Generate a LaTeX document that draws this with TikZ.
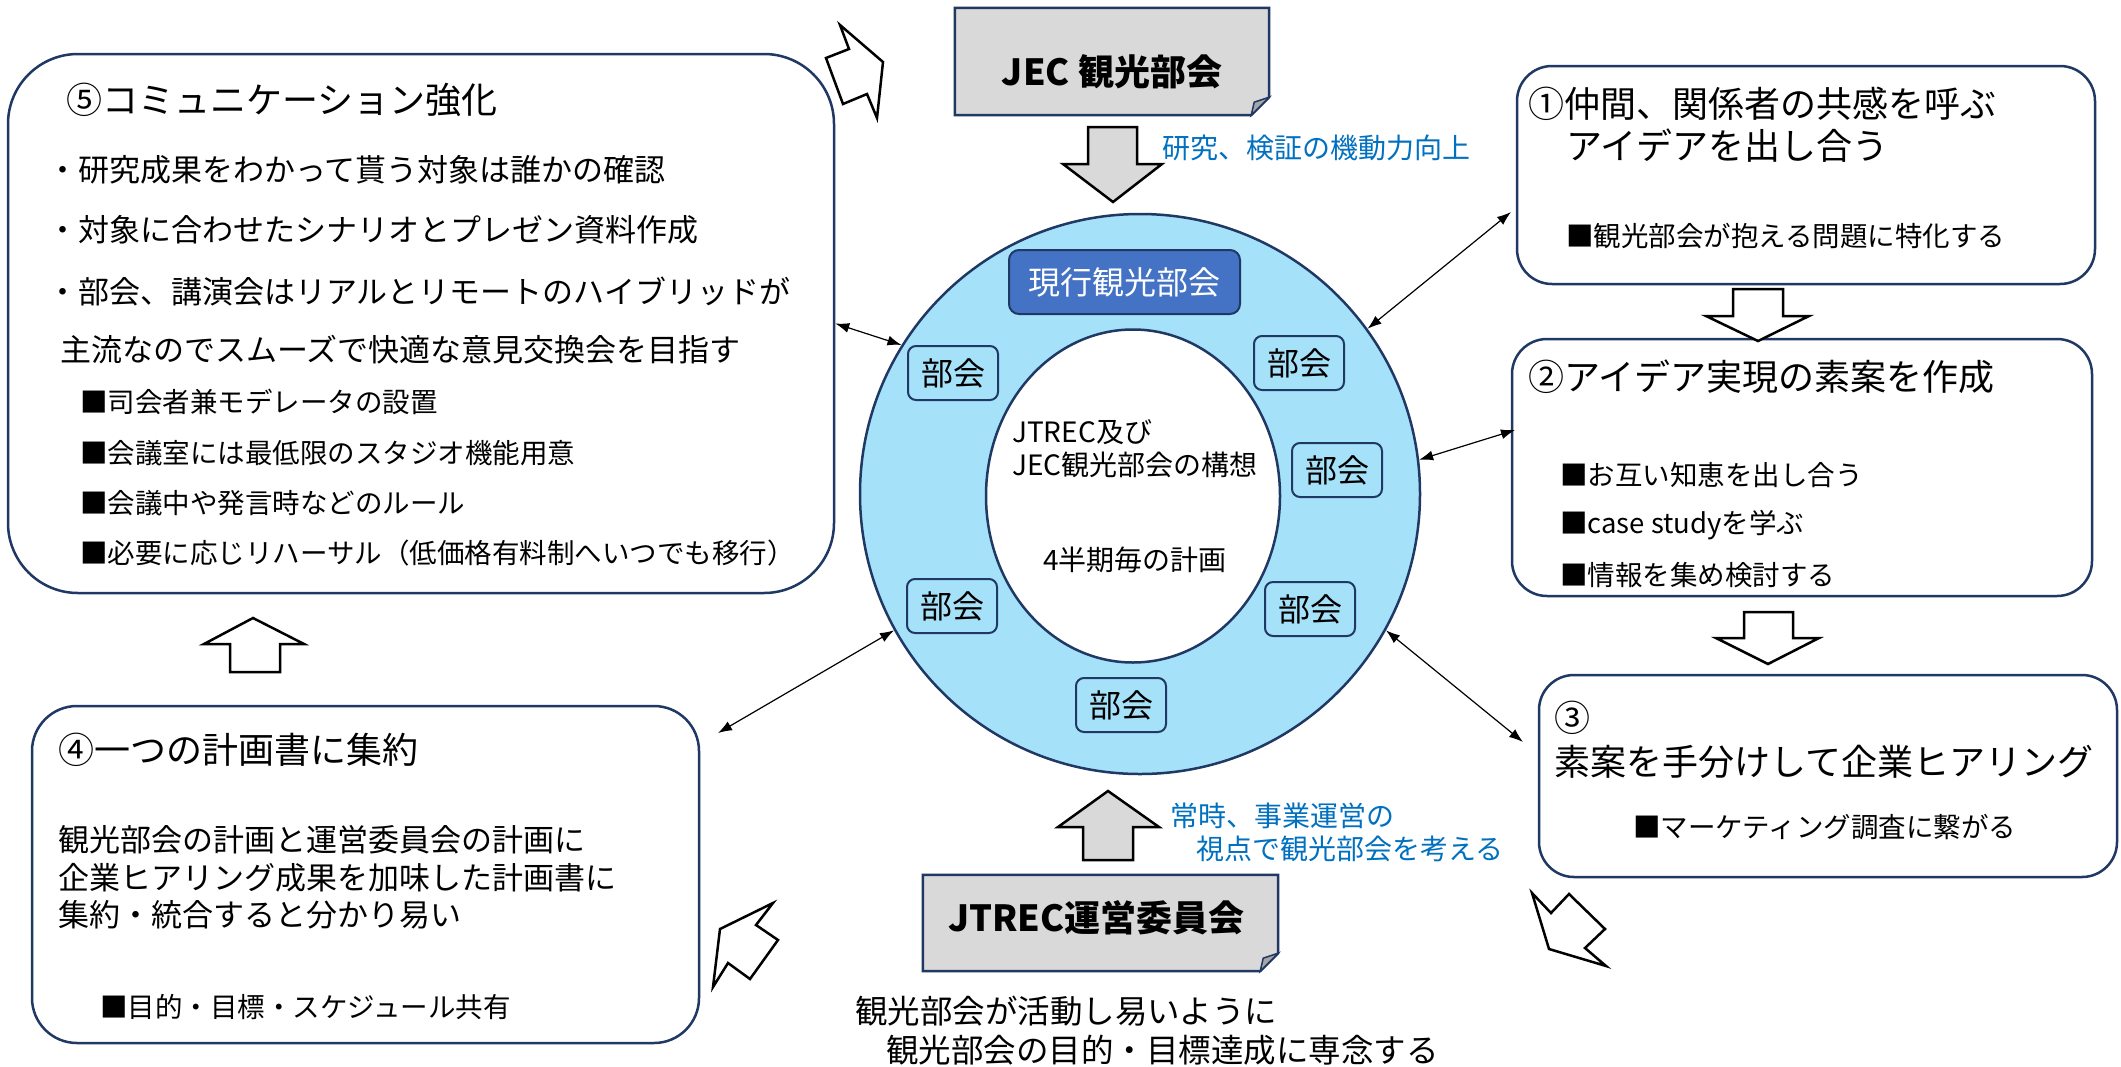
\documentclass[tikz,border=0pt]{standalone}
\usepackage{fontspec}
\setmainfont{Noto Sans CJK JP}
\usepackage{tikz}
\usetikzlibrary{shapes,calc,arrows.meta}

\definecolor{navy}{HTML}{203864}
\definecolor{ringblue}{HTML}{A6E1FA}
\definecolor{boxblue}{HTML}{4472C4}
\definecolor{noteblue}{HTML}{0070C0}
\definecolor{notegray}{HTML}{D9D9D9}
\definecolor{foldgray}{HTML}{A6A6A6}

\begin{document}
\begin{tikzpicture}[x=1pt,y=-1pt]
\tikzset{
	plan box/.style = {draw = navy, line width = 2.5pt, rounded corners = 35pt, inner sep = 0},
	part node/.style = {draw = navy, line width = 2pt, fill = ringblue, rounded corners = 8pt, minimum width = 90pt, minimum height = 54pt, inner sep = 0, font = \fontsize{32}{38}\selectfont},
	link/.style = {<->, line width = 1.2pt, >={Latex[length=14pt,width=10pt]}},
	hollow arrow/.style = {draw, line width = 2.5pt, line join = miter, fill = white},
	solid arrow/.style = {draw, line width = 2.5pt, line join = miter, fill = notegray},
	title text/.style = {anchor = west, inner sep = 0, font = \fontsize{36}{44}\selectfont},
	body text/.style = {anchor = west, inner sep = 0, font = \fontsize{31}{38}\selectfont},
	item text/.style = {anchor = west, inner sep = 0, font = \fontsize{27.5}{34}\selectfont},
	blue text/.style = {anchor = west, inner sep = 0, text = noteblue, font = \fontsize{28}{34}\selectfont},
}
\useasboundingbox[fill = white] (0,0) rectangle (2121,1066);

% ring
\node(ring)[circle, draw = navy, line width = 2.5pt, fill = ringblue, minimum size = 560pt, inner sep = 0] at (1140,494){};
\node(core)[ellipse, draw = navy, line width = 2.5pt, fill = white, minimum width = 294pt, minimum height = 333pt, inner sep = 0] at (1133,496){};
\node(current)[draw = navy, line width = 2pt, fill = boxblue, rounded corners = 10pt, minimum width = 231pt, minimum height = 64pt, text = white, font = \fontsize{32}{38}\selectfont] at (1124.5,282){現行観光部会};
\node(p1)[part node] at (953,373){部会};
\node(p2)[part node] at (1299,363){部会};
\node(p3)[part node] at (1337,470){部会};
\node(p4)[part node] at (952,606){部会};
\node(p5)[part node] at (1310,609){部会};
\node(p6)[part node] at (1121,705){部会};
\node(idea1)[anchor = west, inner sep = 0, font = \fontsize{28}{34}\selectfont] at (1012,432){JTREC及び};
\node(idea2)[anchor = west, inner sep = 0, font = \fontsize{28}{34}\selectfont] at (1012,465){JEC観光部会の構想};
\node(quarter)[inner sep = 0, font = \fontsize{28}{34}\selectfont] at (1135,560){4半期毎の計画};

% plan boxes
\node(b5)[plan box, rounded corners = 70pt, minimum width = 826pt, minimum height = 539pt] at (421,323.5){};
\node(b1)[plan box, minimum width = 578pt, minimum height = 218pt] at (1806,175){};
\node(b2)[plan box, minimum width = 580pt, minimum height = 257pt] at (1802,467.5){};
\node(b3)[plan box, minimum width = 578pt, minimum height = 202pt] at (1828,776){};
\node(b4)[plan box, rounded corners = 45pt, minimum width = 667pt, minimum height = 337pt] at (365.5,874.5){};

% note boxes
\node(jec)[minimum width = 314pt, minimum height = 107pt, inner sep = 0] at (1112,61.5){};
\draw [draw = navy, line width = 2.5pt, fill = notegray, line join = miter] (jec.north west) -- (jec.north east) -- ([yshift=18pt]jec.south east) -- ([xshift=-18pt]jec.south east) -- (jec.south west) -- cycle;
\draw [draw = navy, line width = 1.5pt, fill = foldgray, line join = miter] ([xshift=-18pt]jec.south east) -- ([xshift=-15pt,yshift=13pt]jec.south east) -- ([yshift=18pt]jec.south east) -- cycle;
\node(jectext)[font = \fontsize{36}{44}\selectfont\bfseries] at ([yshift=-10pt]jec.center){JEC 観光部会};

\node(jtrec)[minimum width = 355pt, minimum height = 96pt, inner sep = 0] at (1100.5,923){};
\draw [draw = navy, line width = 2.5pt, fill = notegray, line join = miter] (jtrec.north west) -- (jtrec.north east) -- ([yshift=18pt]jtrec.south east) -- ([xshift=-18pt]jtrec.south east) -- (jtrec.south west) -- cycle;
\draw [draw = navy, line width = 1.5pt, fill = foldgray, line join = miter] ([xshift=-18pt]jtrec.south east) -- ([xshift=-15pt,yshift=13pt]jtrec.south east) -- ([yshift=18pt]jtrec.south east) -- cycle;
\node(jtrectext)[font = \fontsize{36}{44}\selectfont\bfseries] at ([xshift=-4pt,yshift=5pt]jtrec.center){JTREC運営委員会};

% block arrows
\draw [solid arrow] (1088,127) -- (1137,127) -- (1137,164) -- (1162,164) -- (1113,202) -- (1063,164) -- (1088,164) -- cycle;
\draw [solid arrow] (1083,860) -- (1133,860) -- (1133,827) -- (1159,827) -- (1108,791) -- (1058,827) -- (1083,827) -- cycle;
\draw [hollow arrow] (1733,289) -- (1783,289) -- (1783,316) -- (1809,316) -- (1758,341) -- (1706,316) -- (1733,316) -- cycle;
\draw [hollow arrow] (1744,612) -- (1793,612) -- (1793,638) -- (1819,638) -- (1768,664) -- (1716,638) -- (1744,638) -- cycle;
\draw [hollow arrow] (230,672) -- (280,672) -- (280,644) -- (304,644) -- (253,618) -- (204,644) -- (230,644) -- cycle;
\draw [hollow arrow] (840,25) -- (849,49) -- (826,58) -- (843,104) -- (867,94) -- (877,118) -- (883,62) -- cycle;
\draw [hollow arrow] (1532,893) -- (1551,913) -- (1569,894) -- (1605,929) -- (1585,948) -- (1606,966) -- (1549,949) -- cycle;
\draw [hollow arrow] (773,903) -- (756,925) -- (778,940) -- (750,979) -- (728,963) -- (713,987) -- (720,929) -- cycle;

% links
\coordinate(e1) at (1511,212);
\coordinate(e2) at (1515,430);
\coordinate(e3) at (1523,742);
\coordinate(e4) at (718,733);
\draw [link] (b5.east) -- (ring.148);
\draw [link] (ring.36) -- (e1);
\draw [link] (ring.7.5) -- (e2);
\draw [link] (ring.-29) -- (e3);
\draw [link] (ring.209) -- (e4);

% texts
\node(b5title)[title text] at (66,100){⑤コミュニケーション強化};
\node(b5a)[body text] at (47,170){・研究成果をわかって貰う対象は誰かの確認};
\node(b5b)[body text] at (47,230){・対象に合わせたシナリオとプレゼン資料作成};
\node(b5c)[body text] at (47,291){・部会、講演会はリアルとリモートのハイブリッドが};
\node(b5d)[body text] at (60,350){主流なのでスムーズで快適な意見交換会を目指す};
\node(b5e)[item text] at (80,402){■司会者兼モデレータの設置};
\node(b5f)[item text] at (80,453){■会議室には最低限のスタジオ機能用意};
\node(b5g)[item text] at (80,503){■会議中や発言時などのルール};
\node(b5h)[item text] at (80,553){■必要に応じリハーサル（低価格有料制へいつでも移行）};

\node(b1title)[title text] at (1528,104){①仲間、関係者の共感を呼ぶ};
\node(b1title2)[title text] at (1566,146){アイデアを出し合う};
\node(b1a)[item text] at (1566,236){■観光部会が抱える問題に特化する};

\node(b2title)[title text] at (1528,377){②アイデア実現の素案を作成};
\node(b2a)[item text] at (1560,475){■お互い知恵を出し合う};
\node(b2b)[item text] at (1560,525){■case studyを学ぶ};
\node(b2c)[item text] at (1560,575){■情報を集め検討する};

\node(b3num)[title text] at (1554,718){③};
\node(b3title)[title text] at (1554,762){素案を手分けして企業ヒアリング};
\node(b3a)[item text] at (1633,827){■マーケティング調査に繋がる};

\node(b4title)[title text] at (58,750){④一つの計画書に集約};
\node(b4a)[body text] at (58,840){観光部会の計画と運営委員会の計画に};
\node(b4b)[body text] at (58,878){企業ヒアリング成果を加味した計画書に};
\node(b4c)[body text] at (58,915){集約・統合すると分かり易い};
\node(b4d)[item text] at (100,1007){■目的・目標・スケジュール共有};

\node(up1)[blue text] at (1162,148){研究、検証の機動力向上};
\node(down1)[blue text] at (1170,816){常時、事業運営の};
\node(down2)[blue text] at (1196,849){視点で観光部会を考える};
\node(foot1)[anchor = west, inner sep = 0, font = \fontsize{32.5}{38}\selectfont] at (855,1011){観光部会が活動し易いように};
\node(foot2)[anchor = west, inner sep = 0, font = \fontsize{32.5}{38}\selectfont] at (886,1050){観光部会の目的・目標達成に専念する};

\end{tikzpicture}
\end{document}
